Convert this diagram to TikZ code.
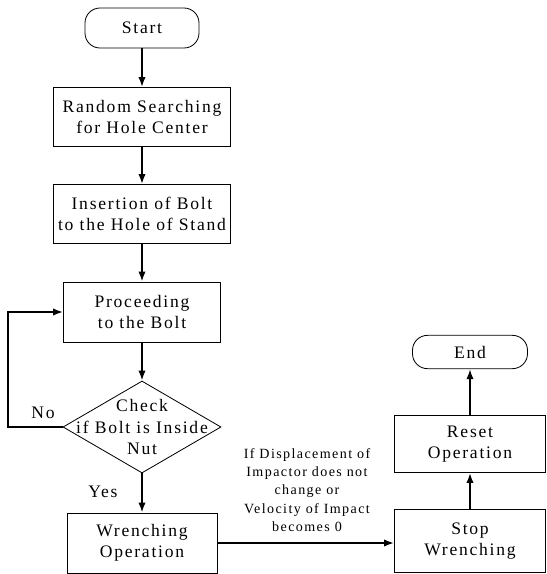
\documentclass[tikz,border=0pt]{standalone}
\usepackage{fontspec}
\setmainfont{Liberation Serif}[LetterSpace=10]
\usetikzlibrary{shapes.geometric,arrows.meta}

\begin{document}
\begin{tikzpicture}[x=0.03cm, y=-0.03cm,
    font=\fontsize{15}{18}\selectfont,
    box/.style={draw, line width=0.7pt, align=center, inner sep=0pt},
    term/.style={box, rounded corners=0.45cm},
    decision/.style={draw, line width=0.7pt, diamond, inner sep=0pt,
        minimum width=4.74cm, minimum height=2.76cm},
    arr/.style={-{Latex[length=3mm,width=2.2mm]}, line width=1.5pt}]
    \useasboundingbox (0,0) rectangle (547,574);

    % main column
    \node[term, minimum width=3.42cm, minimum height=1.2cm] (start) at (142,28) {Start};
    \node[box, minimum width=5.31cm, minimum height=1.77cm] (search) at (142,117) {Random Searching\\for Hole Center};
    \node[box, minimum width=5.31cm, minimum height=1.77cm] (insert) at (142,214) {Insertion of Bolt\\to the Hole of Stand};
    \node[box, minimum width=4.71cm, minimum height=1.8cm] (proc) at (142,312) {Proceeding\\to the Bolt};
    \node[decision] (chk) at (142,427) {};
    \node[align=center] (chktxt) at (chk) {Check\\if Bolt is Inside\\Nut};
    \node[box, minimum width=4.5cm, minimum height=1.8cm] (wrench) at (142,543) {Wrenching\\Operation};

    % right column
    \node[box, minimum width=4.53cm, minimum height=1.89cm] (stop) at (470,541) {Stop\\Wrenching};
    \node[box, minimum width=4.53cm, minimum height=1.71cm] (reset) at (470,444) {Reset\\Operation};
    \node[term, minimum width=3.45cm, minimum height=1.0cm] (end) at (470,352) {End};

    % labels
    \node (no) at (43,413) {No};
    \node (yes) at (103,492) {Yes};
    \node[align=center, font=\fontsize{12}{15.5}\selectfont] (cond) at (307,490)
        {If Displacement of\\Impactor does not\\change or\\Velocity of Impact\\becomes 0};

    % connectors
    \coordinate (loop) at (8,427);
    \draw[arr] (start) -- (search);
    \draw[arr] (search) -- (insert);
    \draw[arr] (insert) -- (proc);
    \draw[arr] (proc) -- (chk);
    \draw[arr] (chk.west) -- (loop) |- (proc.west);
    \draw[arr] (chk.south) -- (wrench.north);
    \draw[arr] (wrench.east) -- (wrench.east -| stop.west);
    \draw[arr] (stop) -- (reset);
    \draw[arr] (reset) -- (end);
\end{tikzpicture}
\end{document}
